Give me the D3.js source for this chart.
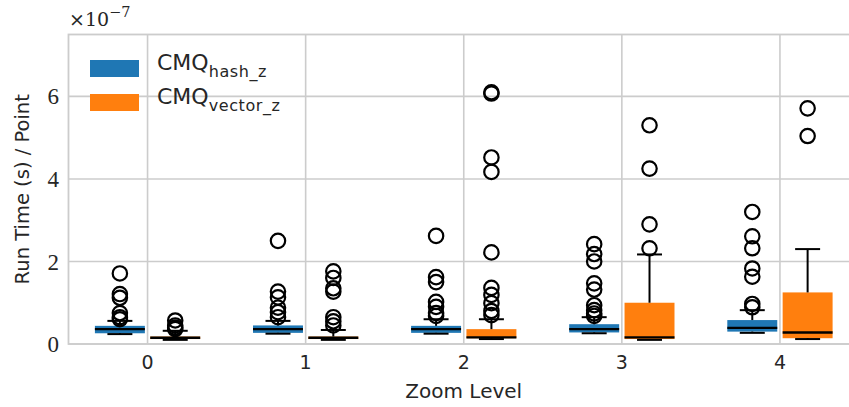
<!DOCTYPE html>
<html>
<head>
<meta charset="utf-8">
<script src="https://cdn.jsdelivr.net/npm/d3@7"></script>
<style>
  html, body { margin: 0; padding: 0; background: #fff; }
  svg { display: block; }
</style>
</head>
<body>
<svg id="chart" width="849" height="407"></svg>
<script>
// Values are in units of 1e-7 s per point
const zoomLevels = [0, 1, 2, 3, 4];
const yTicks = [0, 2, 4, 6];

const hashQ1     = [0.26, 0.27, 0.27, 0.28, 0.30];
const hashMedian = [0.36, 0.36, 0.36, 0.36, 0.39];
const hashQ3     = [0.44, 0.45, 0.44, 0.48, 0.58];
const hashLow    = [0.24, 0.25, 0.25, 0.26, 0.27];
const hashHigh   = [0.56, 0.56, 0.60, 0.65, 0.82];
const hashFliers = [
  [1.71, 1.21, 1.12, 0.75, 0.65, 0.60],
  [2.50, 1.27, 1.13, 0.88, 0.77, 0.65],
  [2.62, 1.62, 1.50, 1.02, 0.90, 0.75, 0.68],
  [2.42, 2.18, 2.00, 1.47, 1.32, 0.94, 0.82, 0.74, 0.68],
  [3.20, 2.61, 2.32, 1.83, 1.63, 0.97, 0.89]
];

const vecQ1     = [0.12, 0.12, 0.14, 0.12, 0.14];
const vecMedian = [0.15, 0.15, 0.16, 0.16, 0.28];
const vecQ3     = [0.18, 0.18, 0.36, 1.00, 1.25];
const vecLow    = [0.10, 0.10, 0.12, 0.10, 0.12];
const vecHigh   = [0.32, 0.34, 0.60, 2.17, 2.30];
const vecFliers = [
  [0.57, 0.45, 0.40, 0.36],
  [1.76, 1.60, 1.35, 1.27, 0.65, 0.55, 0.45],
  [6.10, 6.07, 4.52, 4.17, 2.22, 1.36, 1.19, 0.99, 0.80, 0.70],
  [5.30, 4.25, 2.90, 2.32],
  [5.71, 5.04]
];

const seriesNames = ["hash_z", "vector_z"];
const seriesColors = ["#1f77b4", "#ff7f0e"];

(function () {
const series = [
  { name: seriesNames[0], color: seriesColors[0], offset: -0.175,
    q1: hashQ1, med: hashMedian, q3: hashQ3, lo: hashLow, hi: hashHigh, fl: hashFliers },
  { name: seriesNames[1], color: seriesColors[1], offset: 0.175,
    q1: vecQ1, med: vecMedian, q3: vecQ3, lo: vecLow, hi: vecHigh, fl: vecFliers }
];

const svg = d3.select("#chart");
const pLeft = 68.5, pRight = 859, pTop = 34.5, pBottom = 344;
const x = d3.scaleLinear().domain([-0.5, 4.5]).range([pLeft, pRight]);
const y = d3.scaleLinear().domain([0, 7.5]).range([pBottom, pTop]);
const textColor = "#262626";
const gridColor = "#cccccc";

// gridlines
svg.append("g").selectAll("line").data(yTicks).join("line")
  .attr("x1", pLeft).attr("x2", pRight)
  .attr("y1", d => y(d)).attr("y2", d => y(d))
  .attr("stroke", gridColor).attr("stroke-width", 1.6);
svg.append("g").selectAll("line").data(zoomLevels).join("line")
  .attr("x1", d => x(d)).attr("x2", d => x(d))
  .attr("y1", pTop).attr("y2", pBottom)
  .attr("stroke", gridColor).attr("stroke-width", 1.6);
// spines
svg.append("rect").attr("x", pLeft).attr("y", pTop)
  .attr("width", pRight - pLeft).attr("height", pBottom - pTop)
  .attr("fill", "none").attr("stroke", gridColor).attr("stroke-width", 1.8);

// y tick labels (serif, math style)
svg.append("g").selectAll("text").data(yTicks).join("text")
  .attr("x", 59).attr("y", d => y(d)).attr("dy", "0.35em")
  .attr("text-anchor", "end")
  .attr("font-family", "Liberation Serif, DejaVu Serif, serif")
  .attr("font-size", 23).attr("fill", textColor)
  .text(d => d);

// x tick labels
svg.append("g").selectAll("text").data(zoomLevels).join("text")
  .attr("x", d => x(d)).attr("y", 369)
  .attr("text-anchor", "middle")
  .attr("font-family", "DejaVu Sans, sans-serif")
  .attr("font-size", 19).attr("fill", textColor)
  .text(d => d);

// axis titles
svg.append("text").attr("x", x(2)).attr("y", 398)
  .attr("text-anchor", "middle")
  .attr("font-family", "DejaVu Sans, sans-serif")
  .attr("font-size", 20).attr("fill", textColor)
  .text("Zoom Level");
svg.append("text")
  .attr("transform", `translate(29, ${(pTop + pBottom) / 2}) rotate(-90)`)
  .attr("text-anchor", "middle")
  .attr("font-family", "DejaVu Sans, sans-serif")
  .attr("font-size", 19.5).attr("fill", textColor)
  .text("Run Time (s) / Point");

// offset text ×10^-7
const off = svg.append("text").attr("x", 69).attr("y", 26)
  .attr("font-family", "DejaVu Serif, serif")
  .attr("font-size", 19).attr("fill", textColor);
off.append("tspan").text("\u00d710");
off.append("tspan").attr("dy", -9).attr("font-size", 14.5).text("\u22127");

// boxes
const halfW = x(0.158) - x(0);
const capHalf = halfW / 2;
series.forEach(s => {
  const g = svg.append("g");
  const idx = d3.range(zoomLevels.length);
  const cx = i => x(zoomLevels[i] + s.offset);
  g.append("g").selectAll("rect").data(idx).join("rect")
    .attr("x", i => cx(i) - halfW)
    .attr("width", 2 * halfW)
    .attr("y", i => y(s.q3[i]))
    .attr("height", i => Math.max(1.5, y(s.q1[i]) - y(s.q3[i])))
    .attr("fill", s.color);
  // whiskers
  g.append("g").selectAll("line").data(idx).join("line")
    .attr("x1", cx).attr("x2", cx)
    .attr("y1", i => y(s.q3[i])).attr("y2", i => y(s.hi[i]))
    .attr("stroke", "#000").attr("stroke-width", 2);
  g.append("g").selectAll("line").data(idx).join("line")
    .attr("x1", cx).attr("x2", cx)
    .attr("y1", i => y(s.q1[i])).attr("y2", i => y(s.lo[i]))
    .attr("stroke", "#000").attr("stroke-width", 2);
  // caps
  ["hi", "lo"].forEach(k => {
    g.append("g").selectAll("line").data(idx).join("line")
      .attr("x1", i => cx(i) - capHalf)
      .attr("x2", i => cx(i) + capHalf)
      .attr("y1", i => y(s[k][i])).attr("y2", i => y(s[k][i]))
      .attr("stroke", "#000").attr("stroke-width", 2);
  });
  // medians
  g.append("g").selectAll("line").data(idx).join("line")
    .attr("x1", i => cx(i) - halfW)
    .attr("x2", i => cx(i) + halfW)
    .attr("y1", i => y(s.med[i])).attr("y2", i => y(s.med[i]))
    .attr("stroke", "#000").attr("stroke-width", 2.4);
  // fliers
  const pts = [];
  idx.forEach(i => s.fl[i].forEach(v => pts.push({ i, v })));
  g.append("g").selectAll("circle").data(pts).join("circle")
    .attr("cx", d => cx(d.i))
    .attr("cy", d => y(d.v))
    .attr("r", 7.2)
    .attr("fill", "none").attr("stroke", "#000").attr("stroke-width", 2.2);
});

// legend
const leg = svg.append("g");
series.forEach((s, k) => {
  const ly = 60 + k * 34;
  leg.append("rect").attr("x", 90).attr("y", ly).attr("width", 49).attr("height", 17)
    .attr("fill", s.color);
  const t = leg.append("text").attr("x", 157).attr("y", ly + 9.5)
    .attr("font-family", "DejaVu Sans, sans-serif")
    .attr("font-size", 22).attr("fill", textColor);
  t.append("tspan").text("CMQ");
  t.append("tspan").attr("dy", 7).attr("font-size", 16).attr("letter-spacing", 0.6).text(s.name);
});
})();
</script>
</body>
</html>
